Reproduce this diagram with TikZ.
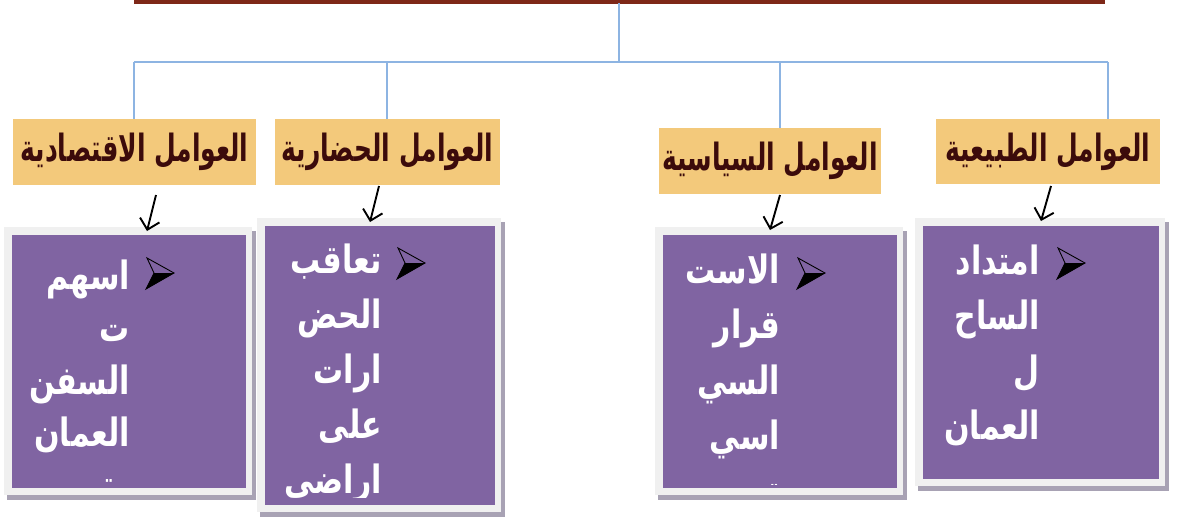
\documentclass[tikz,border=0pt]{standalone}
\usepackage{fontspec}
\usepackage{graphicx}
\usetikzlibrary{arrows.meta,calc}
\TeXXeTstate=1
\newfontfamily\arabicfont[Script=Arabic,BoldFont=DejaVu Sans Bold]{DejaVu Sans}
\definecolor{titlered}{HTML}{7E2818}
\definecolor{linkblue}{HTML}{8DB4E2}
\definecolor{headfill}{HTML}{F3C97B}
\definecolor{headtext}{HTML}{3C0B0B}
\definecolor{boxpurple}{HTML}{8064A2}
\definecolor{boxframe}{HTML}{F0F0F0}
\definecolor{boxshadow}{HTML}{A8A2B4}
\tikzset{
  head/.style={fill=headfill, inner sep=0pt, text=headtext,
    font=\arabicfont\bfseries\fontsize{25}{30}\selectfont},
  bodytxt/.style={text=white, anchor=base east, inner sep=0pt,
    font=\arabicfont\bfseries\fontsize{30}{36}\selectfont},
  link/.style={draw=linkblue, line width=1.8pt},
  down/.style={-{Straight Barb[length=10pt,width=20pt]}, line width=1.9pt, black},
  titlebar/.style={draw=titlered, line width=4pt},
  pics/bulletarrow/.style={code={
    \fill[black] (0,0) -- (20,0) -- (-8,16) -- cycle;
    \draw[black, line width=0.9pt, line join=miter] (-7,-15) -- (20,0) -- (-8,16) -- (0,0) -- cycle;
  }}
}
\begin{document}
\begin{tikzpicture}[x=1pt,y=-1pt]
\useasboundingbox (0,0) rectangle (1182,517);

% title bar and tree
\coordinate (tl) at (134,1.5);
\coordinate (tr) at (1105,1.5);
\draw[titlebar] (tl) -- (tr);
\coordinate (top) at (619,3);
\coordinate (hub) at (619,62);
\coordinate (bl) at (134,62);
\coordinate (br) at (1108,62);
\coordinate (j2) at (387,62);
\coordinate (j3) at (780,62);

% headers
\node[head, minimum width=243pt, minimum height=66pt] (h1) at (134.5,152) {\scalebox{1}[1.5]{\beginR العوامل الاقتصادية\endR}};
\node[head, minimum width=225pt, minimum height=66pt] (h2) at (387.5,152) {\scalebox{1}[1.5]{\beginR العوامل الحضارية\endR}};
\node[head, minimum width=222pt, minimum height=66pt] (h3) at (770,161) {\scalebox{1}[1.5]{\beginR العوامل السياسية\endR}};
\node[head, minimum width=224pt, minimum height=65pt] (h4) at (1048,151.5) {\scalebox{1}[1.5]{\beginR العوامل الطبيعية\endR}};

\draw[link] (top) -- (hub);
\draw[link] (bl) -- (br);
\draw[link] (bl) -- (bl |- h1.north);
\draw[link] (j2) -- (j2 |- h2.north);
\draw[link] (j3) -- (j3 |- h3.north);
\draw[link] (br) -- (br |- h4.north);

% boxes: shadow, frame, purple
\foreach \ox/\oy/\ex/\ey in {4/227/252/495, 257/218/501/512, 655/227/903/495, 915/218/1165/486}{
  \fill[boxshadow] (\ox+3,\oy+4) rectangle (\ex+4,\ey+5);
  \fill[boxframe] (\ox,\oy) rectangle (\ex,\ey);
  \fill[boxpurple] (\ox+8,\oy+8) rectangle (\ex-6,\ey-7);
}

% arrows
\coordinate (a1s) at (156,195); \coordinate (a1e) at (147,231);
\coordinate (a2s) at (379,186); \coordinate (a2e) at (370,222);
\coordinate (a3s) at (780,195); \coordinate (a3e) at (770,230);
\coordinate (a4s) at (1051,186); \coordinate (a4e) at (1041,221);
\draw[down] (a1s) -- (a1e);
\draw[down] (a2s) -- (a2e);
\draw[down] (a3s) -- (a3e);
\draw[down] (a4s) -- (a4e);

% bullets
\pic at (154,273) {bulletarrow};
\pic at (405,263) {bulletarrow};
\pic at (805,273) {bulletarrow};
\pic at (1065,263) {bulletarrow};

% box 1 text
\begin{scope}
\clip (12,235) rectangle (246,483);
\node[bodytxt] (b1l1) at (130,289) {\scalebox{1}[1.3]{\beginR اسهم\endR}};
\node[bodytxt] (b1l2) at (130,341.5) {\scalebox{1}[1.3]{\beginR ت\endR}};
\node[bodytxt] (b1l3) at (130,394) {\scalebox{1}[1.3]{\beginR السفن\endR}};
\node[bodytxt] (b1l4) at (130,446.5) {\scalebox{1}[1.3]{\beginR العمان\endR}};
\node[bodytxt] (b1l5) at (130,499) {\scalebox{1}[1.3]{\beginR ية بن\endR}};
\end{scope}
% box 2 text
\begin{scope}
\clip (263,225) rectangle (497,497);
\node[bodytxt] (b2l1) at (382,273) {\scalebox{1}[1.3]{\beginR تعاقب\endR}};
\node[bodytxt] (b2l2) at (382,328) {\scalebox{1}[1.3]{\beginR الحض\endR}};
\node[bodytxt] (b2l3) at (382,383) {\scalebox{1}[1.3]{\beginR ارات\endR}};
\node[bodytxt] (b2l4) at (382,438) {\scalebox{1}[1.3]{\beginR على\endR}};
\node[bodytxt] (b2l5) at (382,493) {\scalebox{1}[1.3]{\beginR اراضي\endR}};
\end{scope}
% box 3 text
\begin{scope}
\clip (663,235) rectangle (897,484);
\node[bodytxt] (b3l1) at (780,283) {\scalebox{1}[1.3]{\beginR الاست\endR}};
\node[bodytxt] (b3l2) at (780,338.5) {\scalebox{1}[1.3]{\beginR قرار\endR}};
\node[bodytxt] (b3l3) at (780,394) {\scalebox{1}[1.3]{\beginR السي\endR}};
\node[bodytxt] (b3l4) at (780,449.5) {\scalebox{1}[1.3]{\beginR اسي\endR}};
\node[bodytxt] (b3l5) at (780,503) {\scalebox{1}[1.3]{\beginR تن\endR}};
\end{scope}
% box 4 text
\begin{scope}
\clip (923,226) rectangle (1157,471);
\node[bodytxt] (b4l1) at (1040,274) {\scalebox{1}[1.3]{\beginR امتداد\endR}};
\node[bodytxt] (b4l2) at (1040,329) {\scalebox{1}[1.3]{\beginR الساح\endR}};
\node[bodytxt] (b4l3) at (1040,384) {\scalebox{1}[1.3]{\beginR ل\endR}};
\node[bodytxt] (b4l4) at (1040,439) {\scalebox{1}[1.3]{\beginR العمان\endR}};
\end{scope}
\end{tikzpicture}
\end{document}
